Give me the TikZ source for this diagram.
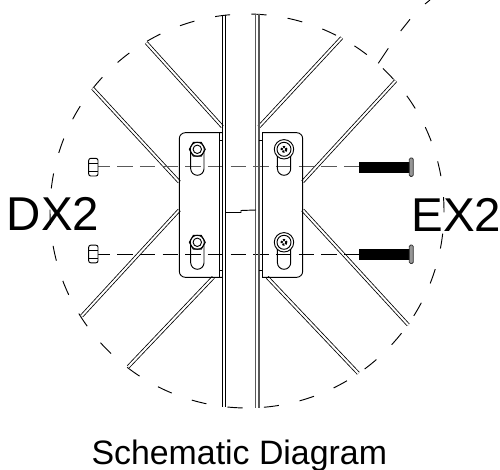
\documentclass[tikz,border=0pt]{standalone}
\usepackage{fontspec}
\setmainfont{Liberation Sans}
\tikzstyle{thinline} = [draw, line width=0.7pt]
\tikzstyle{greyline} = [draw, line width=0.8pt, color=black!65]
\tikzstyle{rib} = [draw, line width=0.6pt, double=white, double distance=1.5pt]
\tikzstyle{hidden} = [draw, line width=0.7pt, dash pattern=on 11.5pt off 5.5pt]
\tikzstyle{biglabel} = [font=\fontsize{35.6pt}{36pt}\selectfont, anchor=base, inner sep=0pt]
\definecolor{headgrey}{RGB}{150,150,150}

\begin{document}
\begin{tikzpicture}[x=0.75pt, y=-0.75pt]
	\useasboundingbox (0,0) rectangle (500,470);

	% Dashed detail circle
	\foreach \k in {0,...,33} {
		\pgfmathsetmacro{\a}{99.3-10.588*\k}
		\draw [thinline] ({247+197*cos(\a)},{211-197*sin(\a)}) arc [start angle=-\a, delta angle=4.4, radius=197];
	}

	% Leader
	\draw [thinline] (378.3,63.3) -- (388.3,48.3);
	\draw [thinline] (400.7,31) -- (410,19.3);
	\draw [thinline] (425,4) -- (430,0);

	% Ribs
	\draw [rib] (146.3,42.7) -- (222.3,126.7);
	\draw [rib] (341.7,37.7) -- (259,126.7);
	\draw [rib] (92.7,88.3) -- (179.3,182);
	\draw [rib] (395.7,80.7) -- (302.7,181.7);
	\draw [rib] (81.7,316) -- (179.3,210);
	\draw [rib] (128.3,366.7) -- (213.3,277.3);
	\draw [rib] (358.3,373.3) -- (267.3,277.3);
	\draw [rib] (408.3,325) -- (302.7,210);

	% Bolt axes
	\draw [hidden, color=black!65] (94.6,166.7) -- (359,166.7);
	\draw [hidden] (94.6,254) -- (359,254);

	% Tube
	\draw [thinline] (222.3,15) -- (222.3,406.7);
	\draw [thinline] (225.7,15) -- (225.7,406.7);
	\draw [greyline] (255.7,13.7) -- (255.7,408);
	\draw [greyline] (259,13.7) -- (259,408);
	\draw [thinline] (226,212.5) -- (241,212.5) -- (241,210.5) -- (256,210);

	% Plates
	\draw [thinline, rounded corners=4.5pt] (222.3,132.7) -- (179.3,132.7) -- (179.3,277.3) -- (222.3,277.3);
	\draw [thinline, rounded corners=4.5pt] (262,132.7) -- (302.7,132.7) -- (302.7,277.3) -- (262,277.3);
	\draw [thinline] (262,132.7) -- (262,277.3);
	\draw [thinline] (219,132.7) -- (219,277.3);
	\draw [thinline] (219,140) -- (222.3,140);
	\draw [thinline] (219,270) -- (222.3,270);
	\draw [thinline] (259,140) -- (262,140);
	\draw [thinline] (259,270) -- (262,270);

	% Slots, nuts and screw heads
	\foreach \yc/\yb in {149.3/175.3, 242.3/269.3} {
		\draw [thinline] (190.7,\yc) -- (190.7,\yb-6.65) arc [start angle=180, end angle=0, radius=6.65] -- (204,\yc);
		\draw [thinline] (277.4,\yc) -- (277.4,\yb-6.65) arc [start angle=180, end angle=0, radius=6.65] -- (290.6,\yc);
		\draw [thinline, fill=white] (205.3,\yc) -- (201.3,\yc-6.9) -- (193.3,\yc-6.9) -- (189.3,\yc) -- (193.3,\yc+6.9) -- (201.3,\yc+6.9) -- cycle;
		\draw [thinline] (197.3,\yc) circle [radius=7];
		\draw [thinline] (197.3,\yc) circle [radius=4.2];
		\draw [thinline, fill=white] (284,\yc) circle [radius=9.7];
		\draw [thinline] (284,\yc) circle [radius=7];
		\draw [line width=1.5pt, densely dotted] (284,\yc) circle [radius=2.4];
	}

	% Nuts, side view
	\foreach \yc in {167.2, 254} {
		\draw [thinline, fill=white, rounded corners=1.5pt] (88.7,\yc-8.8) rectangle (98,\yc+8.8);
		\draw [thinline] (88.7,\yc-4) -- (98,\yc-4);
		\draw [thinline] (88.7,\yc+4) -- (98,\yc+4);
	}

	% Screws, side view
	\foreach \yc in {167.2, 254.3} {
		\draw [fill=black, draw=black] (359,\yc-4.9) rectangle (410,\yc+4.9);
		\draw [fill=headgrey, draw=black!80, line width=0.6pt, rounded corners=1pt] (409.3,\yc-9.2) rectangle (413.3,\yc+9.2);
	}

	\node [biglabel] (dxlabel) at (53,230.7) {DX2};
	\node [biglabel] (exlabel) at (456.5,231.3) {EX2};
	\node [font=\fontsize{25.4pt}{26pt}\selectfont, anchor=base, inner sep=0pt] (caption) at (239.3,464.3) {Schematic Diagram};
\end{tikzpicture}
\end{document}
